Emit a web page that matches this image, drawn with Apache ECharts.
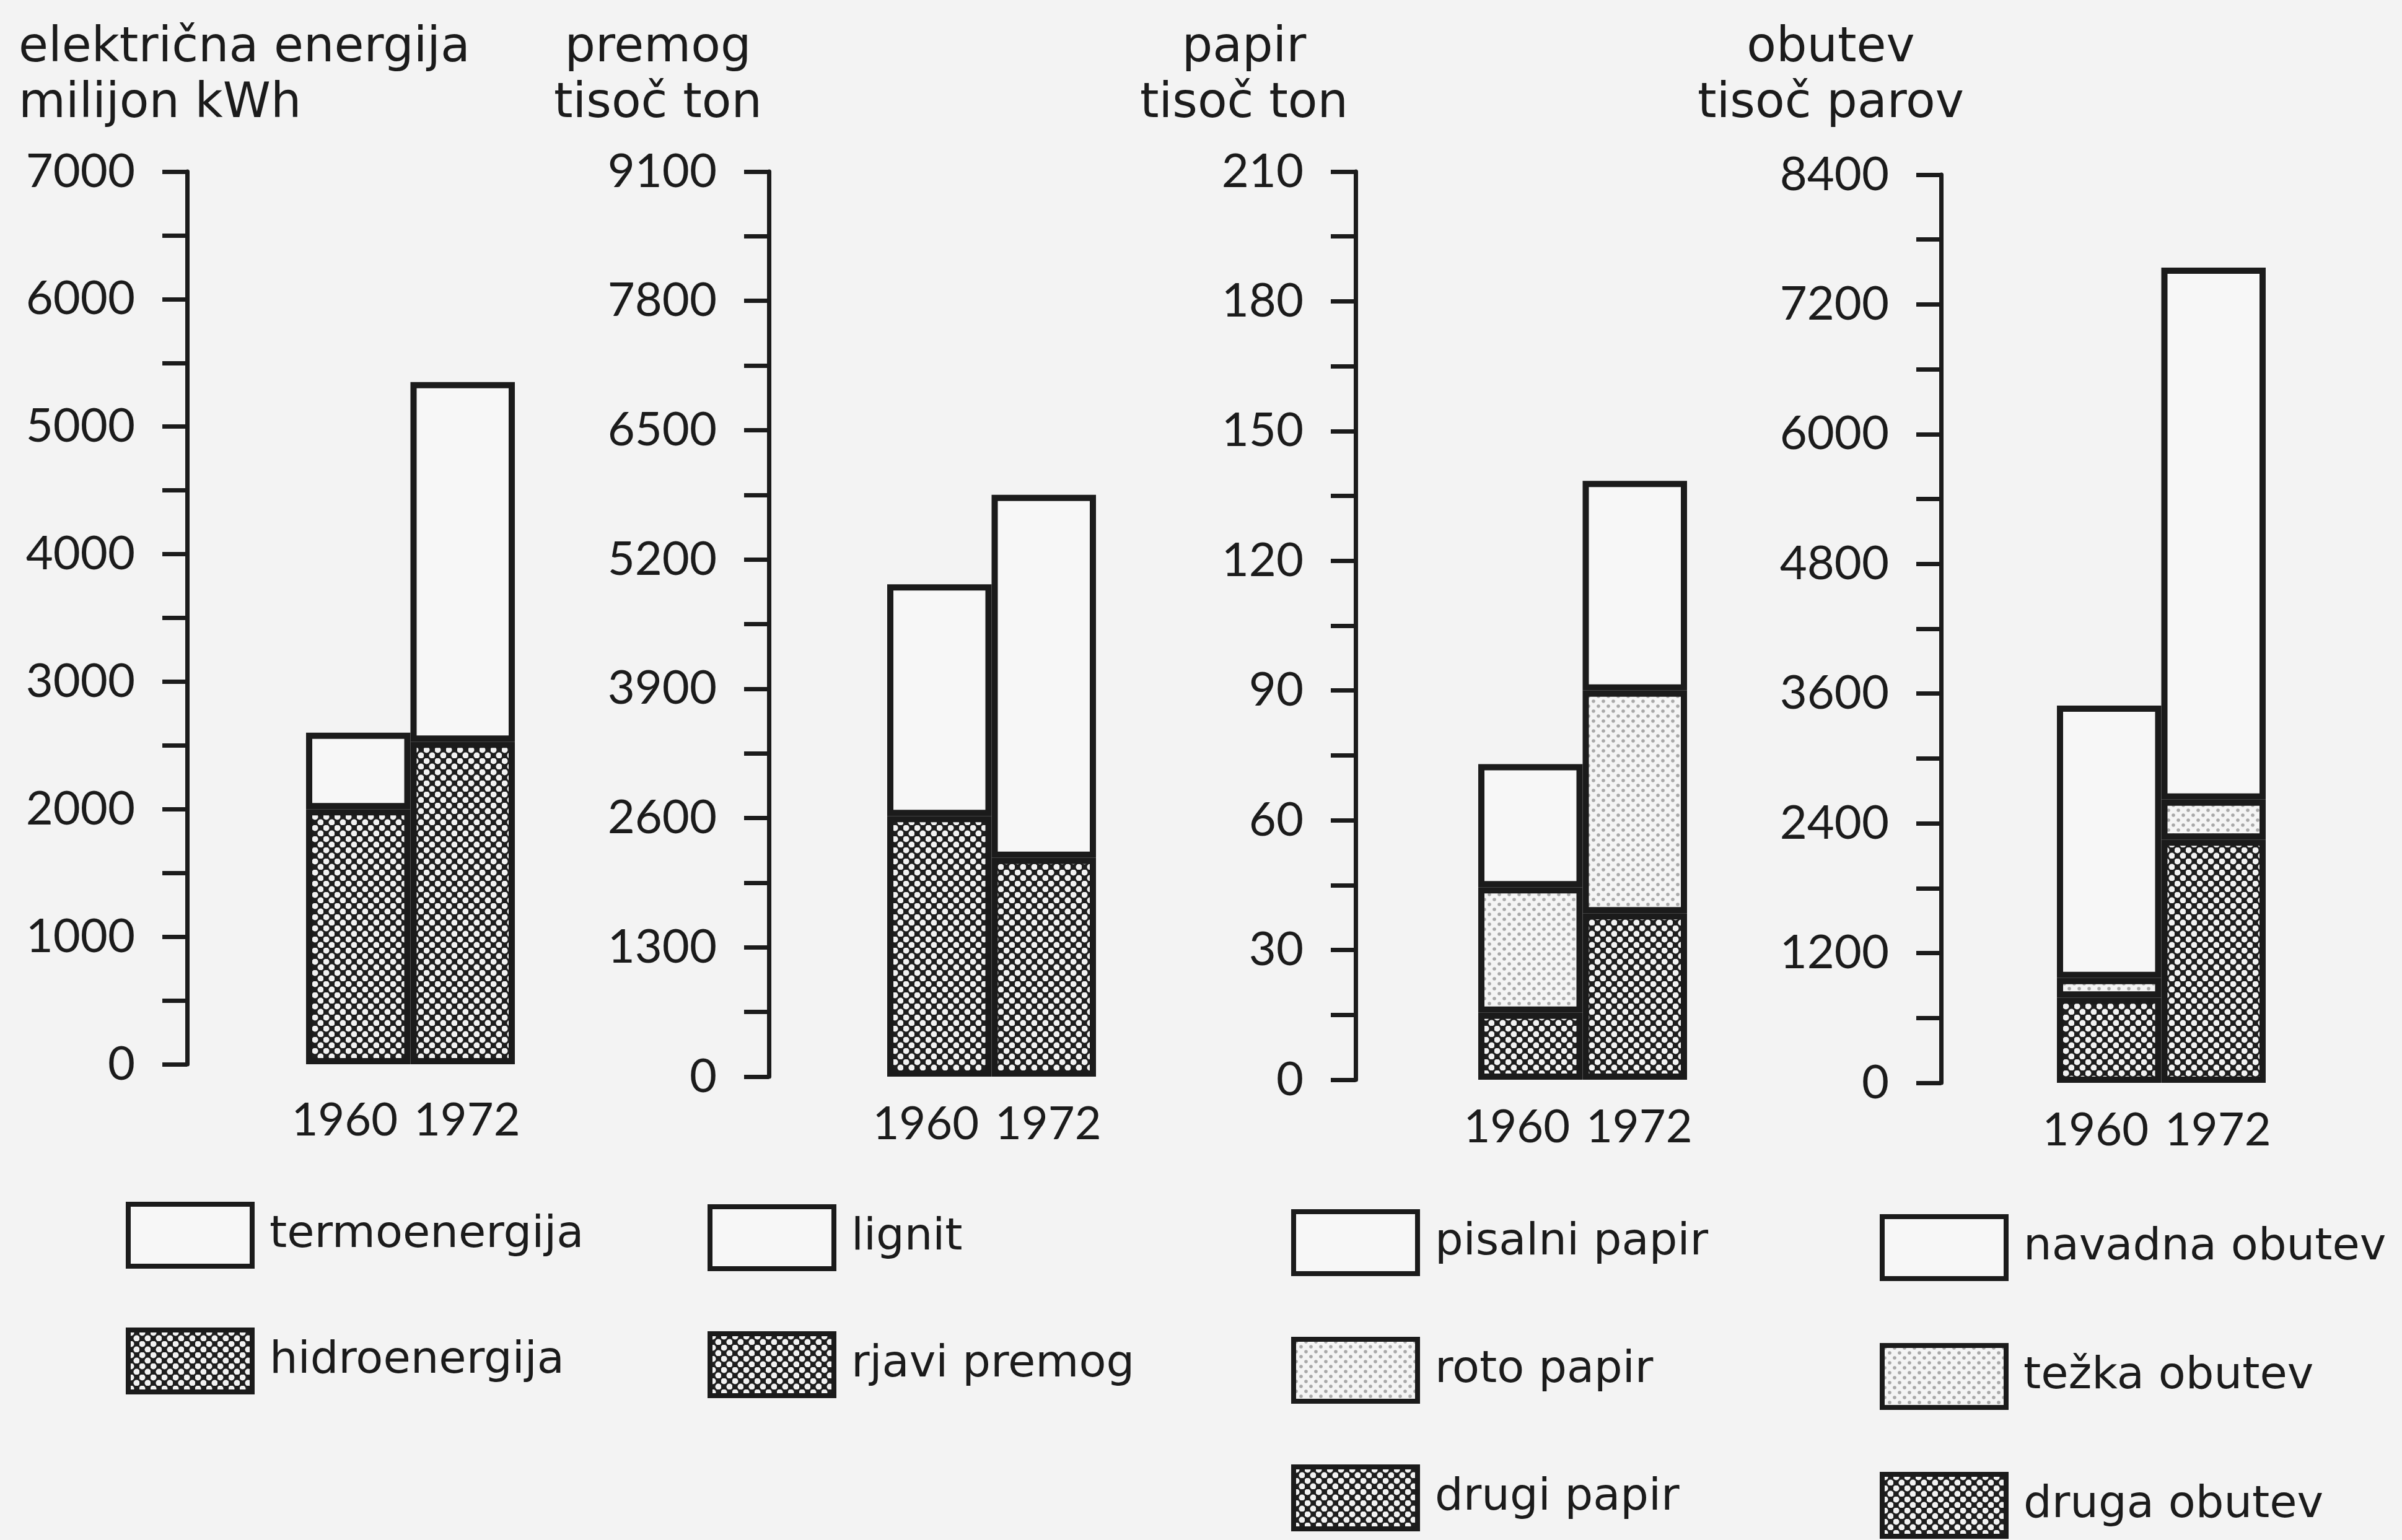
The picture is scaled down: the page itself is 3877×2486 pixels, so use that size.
<!DOCTYPE html>
<html>
<head>
<meta charset="utf-8">
<script src="https://cdn.jsdelivr.net/npm/echarts@6/dist/echarts.min.js"></script>
<style>
html,body{margin:0;padding:0;background:#f3f3f3;}
#c{width:3877px;height:2486px;}
</style>
</head>
<body>
<div id="c"></div>
<script>
// ---- data ----
const years = ['1960', '1972'];
// električna energija (milijon kWh)
const elecHydro = [2000, 2530];
const elecThermo = [600, 2820];
// premog (tisoč ton)
const coalBrown = [2620, 2200];
const coalLignite = [2330, 3650];
// papir (tisoč ton)
const paperOther = [15.5, 38.5];
const paperRoto = [29, 51.5];
const paperWriting = [28.5, 48.5];
// obutev (tisoč parov)
const shoesOther = [790, 2250];
const shoesHeavy = [180, 370];
const shoesNormal = [2520, 4920];
// axes
const yMax = [7000, 9100, 210, 8400];
const yInterval = [1000, 1300, 30, 1200];
const panelTitles = [
  ['električna energija', 'milijon kWh'],
  ['premog', 'tisoč ton'],
  ['papir', 'tisoč ton'],
  ['obutev', 'tisoč parov']
];
const legendColumns = [
  ['termoenergija', 'hidroenergija'],
  ['lignit', 'rjavi premog'],
  ['pisalni papir', 'roto papir', 'drugi papir'],
  ['navadna obutev', 'težka obutev', 'druga obutev']
];

// ---- styles ----
const NUMFONT = 'Lato, "Open Sans", sans-serif';
const TXTFONT = '"DejaVu Sans", "Noto Sans", sans-serif';
const INK = '#1b1b1b';
const BG = '#f3f3f3';
const WHITE = '#f7f7f7';

function makePattern(bg, dot, r, size) {
  const c = document.createElement('canvas');
  c.width = size; c.height = size;
  const g = c.getContext('2d');
  g.fillStyle = bg; g.fillRect(0, 0, size, size);
  g.fillStyle = dot;
  const pts = [[size / 4, size / 4], [3 * size / 4, 3 * size / 4]];
  pts.forEach(p => { g.beginPath(); g.arc(p[0], p[1], r, 0, Math.PI * 2); g.fill(); });
  return { image: c, repeat: 'repeat' };
}
const DARK = makePattern('#1e1e1e', '#f2f2f2', 5, 18);
const LIGHT = makePattern('#f4f4f4', '#a8a8a8', 2.8, 16);

// layout per panel
const axisX = [302, 1241, 2188, 3133];
const barLeft = [494, 1432, 2386, 3320];
const barPairW = 337;
const gridTop = [277, 277, 277, 282];
const gridBottomY = [1718, 1738, 1743, 1748];
const xLabelMargin = [54, 40, 40, 40];

const grids = [], xAxes = [], yAxes = [];
for (let i = 0; i < 4; i++) {
  grids.push({ left: barLeft[i], top: gridTop[i], width: barPairW, height: gridBottomY[i] - gridTop[i], containLabel: false });
  xAxes.push({
    type: 'category', gridIndex: i, data: years,
    axisLine: { show: false }, axisTick: { show: false },
    axisLabel: {
      interval: 0, fontSize: 74, fontFamily: NUMFONT, color: INK, margin: xLabelMargin[i],
      formatter: (v, idx) => (idx === 0 ? '{l|' + v + '}' : '{r|' + v + '}'),
      rich: {
        l: { fontSize: 74, fontFamily: NUMFONT, color: INK, padding: [0, 44, 0, 0] },
        r: { fontSize: 74, fontFamily: NUMFONT, color: INK, padding: [0, 0, 0, 14] }
      }
    }
  });
  yAxes.push({
    type: 'value', gridIndex: i, min: 0, max: yMax[i], interval: yInterval[i],
    offset: barLeft[i] - axisX[i],
    axisLine: { show: true, lineStyle: { color: INK, width: 7 } },
    axisTick: { show: true, length: 40, lineStyle: { color: INK, width: 7 } },
    minorTick: { show: true, splitNumber: 2, length: 40, lineStyle: { color: INK, width: 7 } },
    splitLine: { show: false },
    axisLabel: { fontSize: 76, fontFamily: NUMFONT, color: INK, margin: 84, formatter: v => String(v) }
  });
}

function bar(name, data, idx, fill) {
  return {
    name, type: 'bar', stack: 's' + idx, data,
    xAxisIndex: idx, yAxisIndex: idx,
    barCategoryGap: '0%',
    itemStyle: { color: fill, borderColor: INK, borderWidth: 10 },
    emphasis: { disabled: true },
    animation: false
  };
}

const series = [
  bar('hidroenergija', elecHydro, 0, DARK),
  bar('termoenergija', elecThermo, 0, WHITE),
  bar('rjavi premog', coalBrown, 1, DARK),
  bar('lignit', coalLignite, 1, WHITE),
  bar('drugi papir', paperOther, 2, DARK),
  bar('roto papir', paperRoto, 2, LIGHT),
  bar('pisalni papir', paperWriting, 2, WHITE),
  bar('druga obutev', shoesOther, 3, DARK),
  bar('težka obutev', shoesHeavy, 3, LIGHT),
  bar('navadna obutev', shoesNormal, 3, WHITE)
];

const legendLeft = [203, 1142, 2084, 3034];
const legendTop = [1940, 1944, 1952, 1960];
const legendStep = [203, 205, 206, 208];
const legends = [];
legendColumns.forEach((names, col) => {
  names.forEach((nm, k) => {
    legends.push({
      data: [nm], left: legendLeft[col], top: legendTop[col] + k * legendStep[col],
      orient: 'vertical', padding: 0,
      itemWidth: 200, itemHeight: 100,
      selectedMode: false, icon: 'rect',
      itemStyle: { borderColor: INK, borderWidth: 8 },
      textStyle: { fontSize: 72, fontFamily: TXTFONT, color: INK, padding: [0, 0, 0, 23] }
    });
  });
});

const titleX = [30, 1062, 2008, 2955];
const titleAlign = ['left', 'center', 'center', 'center'];
const graphics = [];
for (let i = 0; i < 4; i++) {
  graphics.push({
    type: 'text', x: titleX[i], y: 34, silent: true,
    style: {
      text: panelTitles[i].join('\n'), textAlign: titleAlign[i], textVerticalAlign: 'top',
      font: '78px ' + TXTFONT, fill: INK, lineHeight: 90
    }
  });
}

const chart = echarts.init(document.getElementById('c'), null, { renderer: 'canvas' });
chart.setOption({
  backgroundColor: BG,
  animation: false,
  grid: grids, xAxis: xAxes, yAxis: yAxes,
  legend: legends,
  series,
  graphic: graphics
});
</script>
</body>
</html>
